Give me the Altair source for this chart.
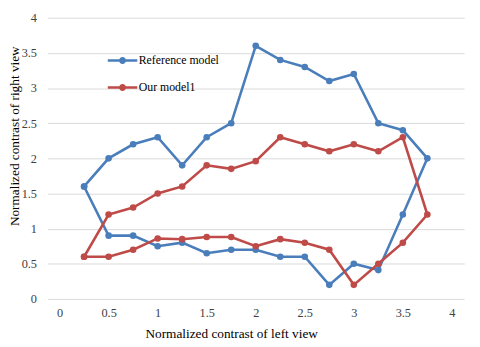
import altair as alt
import pandas as pd

# Closed loops: upper branch left->right, then lower branch right->left
ref_x = [0.25, 0.5, 0.75, 1.0, 1.25, 1.5, 1.75, 2.0, 2.25, 2.5, 2.75, 3.0, 3.25, 3.5, 3.75,
         3.5, 3.25, 3.0, 2.75, 2.5, 2.25, 2.0, 1.75, 1.5, 1.25, 1.0, 0.75, 0.5, 0.25]
ref_y = [1.6, 2.0, 2.2, 2.3, 1.9, 2.3, 2.5, 3.6, 3.4, 3.3, 3.1, 3.2, 2.5, 2.4, 2.0,
         1.2, 0.41, 0.5, 0.2, 0.6, 0.6, 0.7, 0.7, 0.65, 0.8, 0.75, 0.9, 0.9, 1.6]

our_x = [0.25, 0.5, 0.75, 1.0, 1.25, 1.5, 1.75, 2.0, 2.25, 2.5, 2.75, 3.0, 3.25, 3.5, 3.75,
         3.5, 3.25, 3.0, 2.75, 2.5, 2.25, 2.0, 1.75, 1.5, 1.25, 1.0, 0.75, 0.5, 0.25]
our_y = [0.6, 1.2, 1.3, 1.5, 1.6, 1.9, 1.85, 1.96, 2.3, 2.2, 2.1, 2.2, 2.1, 2.3, 1.2,
         0.8, 0.5, 0.2, 0.7, 0.8, 0.85, 0.75, 0.88, 0.88, 0.85, 0.86, 0.7, 0.6, 0.6]

series_names = ["Reference model", "Our model1"]
colors = ["#4A7EBB", "#BE4B48"]
x_ticks = [0, 0.5, 1, 1.5, 2, 2.5, 3, 3.5, 4]
y_ticks = [0, 0.5, 1, 1.5, 2, 2.5, 3, 3.5, 4]

rows = []
for name, xs, ys in [(series_names[0], ref_x, ref_y), (series_names[1], our_x, our_y)]:
    for i, (xv, yv) in enumerate(zip(xs, ys)):
        rows.append({"series": name, "order": i, "x": xv, "y": yv})
df = pd.DataFrame(rows)

font = "Liberation Serif"
legend_path = ("M-1,0H1"
               "M-0.15,0A0.15,0.15 0 1,0 0.15,0A0.15,0.15 0 1,0 -0.15,0"
               "M-0.05,0A0.05,0.05 0 1,0 0.05,0A0.05,0.05 0 1,0 -0.05,0")

chart = alt.Chart(df).mark_line(
    strokeWidth=2.6,
    point=alt.OverlayMarkDef(filled=True, size=45, opacity=1),
).encode(
    x=alt.X("x:Q",
            scale=alt.Scale(domain=[-0.125, 4.125], nice=False, zero=False),
            axis=alt.Axis(values=x_ticks, format="~g", title="Normalized contrast of left view",
                          grid=False, domain=False, ticks=False, labelPadding=8,
                          labelFontSize=12.5, titleFontSize=13.5,
                          titleX=187, titleY=35, titleBaseline="middle",
                          titleFontWeight="normal", labelFlush=False)),
    y=alt.Y("y:Q",
            scale=alt.Scale(domain=[0, 4], nice=False),
            axis=alt.Axis(values=y_ticks, format="~g", title="Normalized contrast of right view",
                          grid=True, domain=False, ticks=False, labelPadding=11,
                          labelFontSize=12.5, titleFontSize=13.5,
                          titleX=-33, titleY=120, titleAngle=270,
                          titleAlign="center", titleBaseline="middle",
                          titleFontWeight="normal", gridColor="#d9d9d9", labelFlush=False)),
    color=alt.Color("series:N",
                    scale=alt.Scale(domain=series_names, range=colors),
                    legend=alt.Legend(title=None, orient="none", legendX=60, legendY=27,
                                      symbolType=legend_path, symbolSize=900,
                                      symbolStrokeWidth=2.6, labelFontSize=12,
                                      labelOffset=0, rowPadding=3.5, padding=0)),
    detail="series:N",
    order="order:Q",
).properties(
    width=424, height=286,
    autosize=alt.AutoSizeParams(type="none"),
    padding={"left": 40, "top": 7, "right": 8, "bottom": 46},
).configure(
    font=font,
).configure_axis(
    labelFont=font, titleFont=font, labelColor="#404040", titleColor="#000000",
).configure_legend(
    labelFont=font, labelColor="#000000",
).configure_view(
    stroke=None,
)

chart.save("out.html", embed_options={"renderer": "svg", "actions": False})
